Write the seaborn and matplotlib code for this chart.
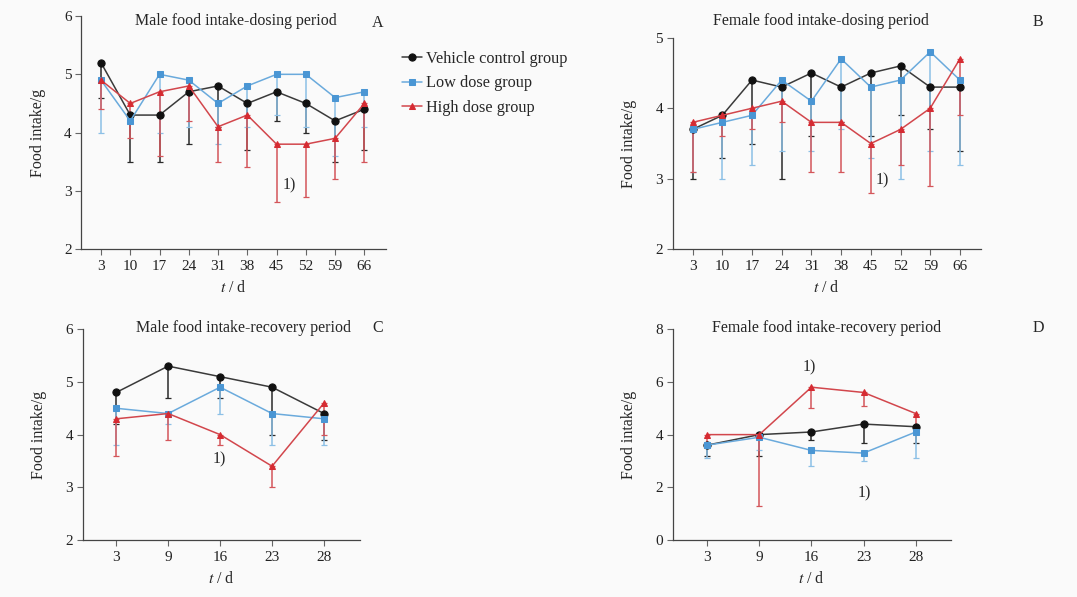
import numpy as np
import pandas as pd
import matplotlib
matplotlib.use("Agg")
import matplotlib.pyplot as plt
import seaborn as sns

# group names and axis categories
groups = ["Vehicle control group", "Low dose group", "High dose group"]
dose_days = [3, 10, 17, 24, 31, 38, 45, 52, 59, 66]
rec_days = [3, 9, 16, 23, 28]

# A: male, dosing period (mean and lower end of error bar)
male_dose_vehicle = [5.2, 4.3, 4.3, 4.7, 4.8, 4.5, 4.7, 4.5, 4.2, 4.4]
male_dose_vehicle_lo = [4.6, 3.5, 3.5, 3.8, 4.1, 3.7, 4.2, 4.0, 3.5, 3.7]
male_dose_low = [4.9, 4.2, 5.0, 4.9, 4.5, 4.8, 5.0, 5.0, 4.6, 4.7]
male_dose_low_lo = [4.0, 4.2, 4.0, 4.1, 3.8, 4.1, 4.3, 4.1, 3.6, 4.1]
male_dose_high = [4.9, 4.5, 4.7, 4.8, 4.1, 4.3, 3.8, 3.8, 3.9, 4.5]
male_dose_high_lo = [4.4, 3.9, 3.6, 4.2, 3.5, 3.4, 2.8, 2.9, 3.2, 3.5]

# B: female, dosing period
female_dose_vehicle = [3.7, 3.9, 4.4, 4.3, 4.5, 4.3, 4.5, 4.6, 4.3, 4.3]
female_dose_vehicle_lo = [3.0, 3.3, 3.5, 3.0, 3.6, 3.8, 3.6, 3.9, 3.7, 3.4]
female_dose_low = [3.7, 3.8, 3.9, 4.4, 4.1, 4.7, 4.3, 4.4, 4.8, 4.4]
female_dose_low_lo = [3.1, 3.0, 3.2, 3.4, 3.4, 3.7, 3.3, 3.0, 3.4, 3.2]
female_dose_high = [3.8, 3.9, 4.0, 4.1, 3.8, 3.8, 3.5, 3.7, 4.0, 4.7]
female_dose_high_lo = [3.1, 3.6, 3.7, 3.8, 3.1, 3.1, 2.8, 3.2, 2.9, 3.9]

# C: male, recovery period
male_rec_vehicle = [4.8, 5.3, 5.1, 4.9, 4.4]
male_rec_vehicle_lo = [4.2, 4.7, 4.7, 4.0, 3.9]
male_rec_low = [4.5, 4.4, 4.9, 4.4, 4.3]
male_rec_low_lo = [3.8, 4.2, 4.4, 3.8, 3.8]
male_rec_high = [4.3, 4.4, 4.0, 3.4, 4.6]
male_rec_high_lo = [3.6, 3.9, 3.8, 3.0, 4.0]

# D: female, recovery period
female_rec_vehicle = [3.6, 4.0, 4.1, 4.4, 4.3]
female_rec_vehicle_lo = [3.2, 3.2, 3.8, 3.7, 3.7]
female_rec_low = [3.6, 3.9, 3.4, 3.3, 4.1]
female_rec_low_lo = [3.1, 3.4, 2.8, 3.0, 3.1]
female_rec_high = [4.0, 4.0, 5.8, 5.6, 4.8]
female_rec_high_lo = [3.6, 1.3, 5.0, 5.1, 4.3]

colors = {"Vehicle control group": "#111111",
          "Low dose group": "#4a96d4",
          "High dose group": "#d62b32"}
line_colors = {"Vehicle control group": "#3a3a3a",
               "Low dose group": "#6aaadc",
               "High dose group": "#d2464c"}
bar_colors = {"Vehicle control group": "#2a2a2a",
              "Low dose group": "#8cc0e6",
              "High dose group": "#d4555a"}
markers = {"Vehicle control group": "o",
           "Low dose group": "s",
           "High dose group": "^"}
msizes = {"Vehicle control group": 5.2, "Low dose group": 4.8, "High dose group": 5.0}

sns.set_theme(style="ticks")
plt.rcParams["font.family"] = ["Liberation Serif", "DejaVu Serif"]
plt.rcParams["mathtext.fontset"] = "stix"
plt.rcParams["axes.facecolor"] = "#fafafa"
plt.rcParams["figure.facecolor"] = "#fafafa"

fig = plt.figure(figsize=(10.77, 5.97), dpi=100)


def draw_panel(rect, days, means, lows, ylim, yticks, notes, xlo, xhi):
    ax = fig.add_axes(rect)
    pos = list(range(len(days)))
    rows = []
    for g, m in zip(groups, means):
        for p, v in zip(pos, m):
            rows.append({"pos": p, "val": v, "group": g})
    df = pd.DataFrame(rows)
    # one-sided (lower) error bars
    for g, m, lo in zip(groups, means, lows):
        m = np.array(m)
        lo = np.array(lo)
        ax.errorbar(pos, m, yerr=[m - lo, np.zeros_like(m)], fmt="none",
                    ecolor=bar_colors[g], elinewidth=1.1, capsize=2,
                    capthick=0.9, zorder=1)
    for g in groups:
        sub = df[df["group"] == g]
        sns.lineplot(data=sub, x="pos", y="val", ax=ax, color=line_colors[g],
                     marker=markers[g], markersize=msizes[g],
                     markerfacecolor=colors[g], markeredgecolor=colors[g],
                     linewidth=1.1, sort=False, errorbar=None, label=g,
                     zorder=3)
    ax.set_xlim(xlo, len(days) - 1 + xhi)
    ax.set_ylim(*ylim)
    ax.set_yticks(yticks)
    ax.set_xticks(pos)
    ax.set_xticklabels([str(d) for d in days])
    ax.tick_params(axis="x", length=4, width=0.8, pad=4, labelsize=11,
                   colors="#666666", labelcolor="#222222", direction="out")
    ax.tick_params(axis="y", length=4, width=0.8, pad=3, labelsize=11,
                   colors="#666666", labelcolor="#222222", direction="out")
    for s in ["top", "right"]:
        ax.spines[s].set_visible(False)
    for s in ["left", "bottom"]:
        ax.spines[s].set_color("#444444")
        ax.spines[s].set_linewidth(0.9)
    ax.set_xlabel(r"$t$ / d", fontsize=11.5, labelpad=5)
    ax.set_ylabel("Food intake/g", fontsize=11.5, labelpad=13)
    for (nx, ny) in notes:
        ax.text(nx, ny, "1)", fontsize=11.5, ha="center", va="center")
    handles, labels = ax.get_legend_handles_labels()
    if ax.get_legend():
        ax.get_legend().remove()
    return ax, handles, labels


axA, handles, labels = draw_panel(
    [81.4 / 1077, 0.583, 304.3 / 1077, 0.390], dose_days,
    [male_dose_vehicle, male_dose_low, male_dose_high],
    [male_dose_vehicle_lo, male_dose_low_lo, male_dose_high_lo],
    (2, 6), [2, 3, 4, 5, 6], [(6.45, 3.09)], -0.67, 0.73)
axB, _, _ = draw_panel(
    [672.7 / 1077, 0.5824, 308 / 1077, 0.3544], dose_days,
    [female_dose_vehicle, female_dose_low, female_dose_high],
    [female_dose_vehicle_lo, female_dose_low_lo, female_dose_high_lo],
    (2, 5), [2, 3, 4, 5], [(6.38, 2.98)], -0.67, 0.7)
axC, _, _ = draw_panel(
    [82.9 / 1077, 0.0955, 277 / 1077, 0.353], rec_days,
    [male_rec_vehicle, male_rec_low, male_rec_high],
    [male_rec_vehicle_lo, male_rec_low_lo, male_rec_high_lo],
    (2, 6), [2, 3, 4, 5, 6], [(1.98, 3.53)], -0.64, 0.69)
axD, _, _ = draw_panel(
    [672.7 / 1077, 0.0955, 278 / 1077, 0.353], rec_days,
    [female_rec_vehicle, female_rec_low, female_rec_high],
    [female_rec_vehicle_lo, female_rec_low_lo, female_rec_high_lo],
    (0, 8), [0, 2, 4, 6, 8], [(1.96, 6.54), (3.01, 1.77)], -0.66, 0.67)

# panel titles and letters
tfs = 11.5
fig.text(236 / 1077, 1 - 21 / 597, "Male food intake-dosing period",
         ha="center", va="center", fontsize=tfs)
fig.text(378 / 1077, 1 - 23 / 597, "A", ha="center", va="center", fontsize=tfs)
fig.text(821 / 1077, 1 - 21 / 597, "Female food intake-dosing period",
         ha="center", va="center", fontsize=tfs)
fig.text(1038 / 1077, 1 - 22 / 597, "B", ha="center", va="center", fontsize=tfs)
fig.text(243 / 1077, 1 - 328 / 597, "Male food intake-recovery period",
         ha="center", va="center", fontsize=tfs)
fig.text(378 / 1077, 1 - 328 / 597, "C", ha="center", va="center", fontsize=tfs)
fig.text(827 / 1077, 1 - 328 / 597, "Female food intake-recovery period",
         ha="center", va="center", fontsize=tfs)
fig.text(1038 / 1077, 1 - 328 / 597, "D", ha="center", va="center", fontsize=tfs)

fig.legend(handles, labels, loc="upper left",
           bbox_to_anchor=(402 / 1077, 1 - 51 / 597), frameon=False,
           fontsize=11.7, handlelength=1.2, handletextpad=0.3,
           labelspacing=0.52, borderaxespad=0, borderpad=0)

fig.savefig("out.png", dpi=100, facecolor=fig.get_facecolor())
